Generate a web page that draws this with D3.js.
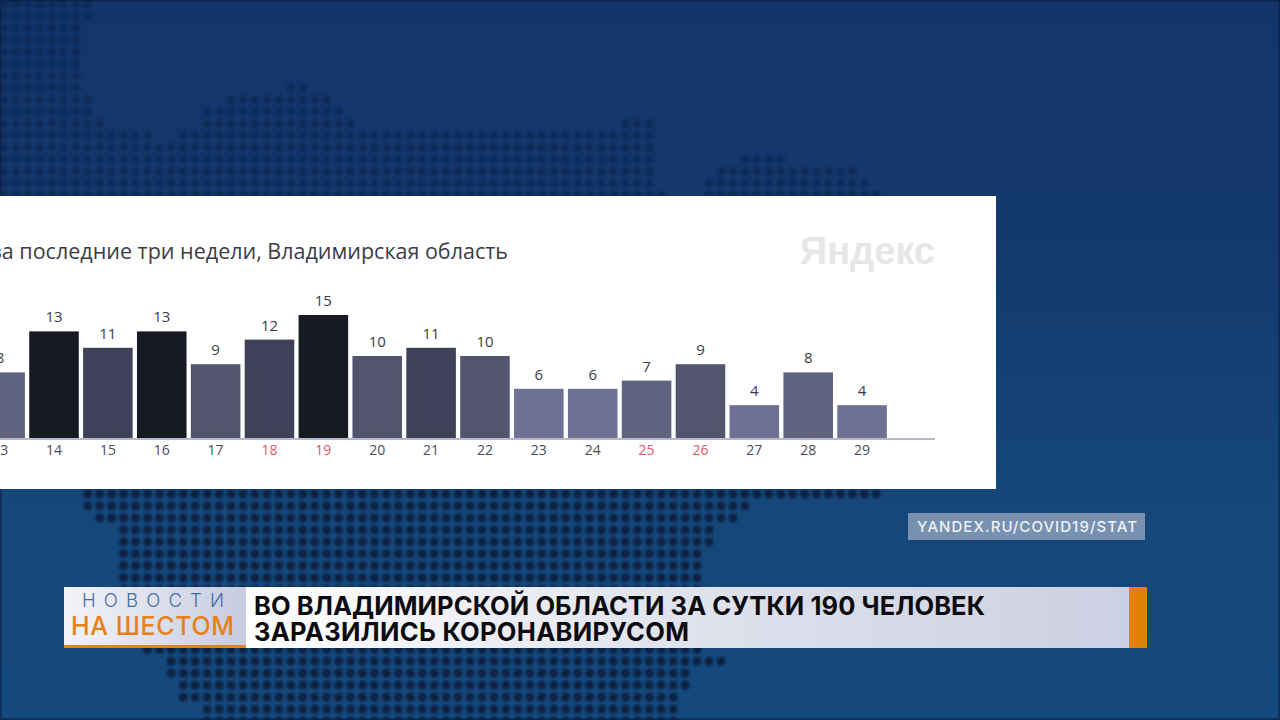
<!DOCTYPE html>
<html>
<head>
<meta charset="utf-8">
<script src="https://cdn.jsdelivr.net/npm/d3@7"></script>
<style>
html, body { margin: 0; padding: 0; overflow: hidden; background: #14366a; }
svg { display: block; }
</style>
</head>
<body>
<script>
var w = 1280;
var h = 720;

var days = ["13", "14", "15", "16", "17", "18", "19", "20", "21", "22", "23", "24", "25", "26", "27", "28", "29"];
var cases = [8, 13, 11, 13, 9, 12, 15, 10, 11, 10, 6, 6, 7, 9, 4, 8, 4];
var weekend = ["18", "19", "25", "26"];

var chartTitle = "за последние три недели, Владимирская область";
var headline = ["ВО ВЛАДИМИРСКОЙ ОБЛАСТИ ЗА СУТКИ 190 ЧЕЛОВЕК", "ЗАРАЗИЛИСЬ КОРОНАВИРУСОМ"];

// outline of the dotted map behind the card
var mapOutline = [[-5,-5],[95,-5],[95,18],[86,18],[86,88],[96,88],[96,112],[107,112],[107,135],[155,135],[155,147],[180,147],[180,135],[193,135],[193,124],[205,124],[205,100],[230,100],[230,88],[285,88],[285,78],[312,78],[312,88],[335,88],[335,100],[347,100],[347,112],[360,112],[360,124],[400,124],[400,125],[490,125],[535,125],[535,135],[575,135],[575,124],[622,124],[622,112],[652,112],[652,186],[665,186],[665,196],
  [705,196],[705,172],[720,172],[720,160],[740,160],[740,148],[785,148],[785,160],[855,160],[855,172],[865,172],[865,184],[878,184],[878,500],[747,500],[747,512],[735,512],[735,525],[712,525],[712,548],[700,548],[700,652],[725,652],[725,664],[690,664],[690,690],[677,690],[677,725],[205,725],[205,700],[172,700],[172,680],[160,680],[160,660],[145,660],[145,640],[122,640],[122,545],[112,545],[112,525],[98,525],[98,510],[85,510],[85,490],[72,490],[72,480],[-5,480]];

var svg = d3.select("body")
            .append("svg")
            .attr("width", w)
            .attr("height", h);

var defs = svg.append("defs");

var bgGrad = defs.append("linearGradient").attr("id", "bg").attr("x1", 0).attr("y1", 0).attr("x2", 0).attr("y2", 1);
bgGrad.append("stop").attr("offset", "0").attr("stop-color", "#13356a");
bgGrad.append("stop").attr("offset", "0.35").attr("stop-color", "#14396d");
bgGrad.append("stop").attr("offset", "0.7").attr("stop-color", "#15477a");
bgGrad.append("stop").attr("offset", "1").attr("stop-color", "#15487c");

var logoGrad = defs.append("linearGradient").attr("id", "logoBg");
logoGrad.append("stop").attr("offset", "0").attr("stop-color", "#f3f4f8");
logoGrad.append("stop").attr("offset", "1").attr("stop-color", "#c6cbdf");

var barGrad = defs.append("linearGradient").attr("id", "barBg");
barGrad.append("stop").attr("offset", "0").attr("stop-color", "#ffffff");
barGrad.append("stop").attr("offset", "0.45").attr("stop-color", "#e2e4ee");
barGrad.append("stop").attr("offset", "1").attr("stop-color", "#cbd0e2");

defs.append("filter").attr("id", "soft").append("feGaussianBlur").attr("stdDeviation", 0.9);

// background
svg.append("rect").attr("width", w).attr("height", h).attr("fill", "url(#bg)");

// dotted map, dark below the card and faint above it
var dotColor = d3.scaleLinear().domain([180, 500]).range(["#102c59", "#0b2143"]).clamp(true);
var dotStep = 11.95;
var dots = [];
d3.range(0, 61).forEach(function(row){
    d3.range(0, 108).forEach(function(col){
        var p = [col * dotStep + 4, row * dotStep + 4];
        if (d3.polygonContains(mapOutline, p)) dots.push(p);
    });
});
svg.append("g").attr("filter", "url(#soft)")
   .selectAll("circle")
   .data(dots)
   .enter()
   .append("circle")
   .attr("cx", function(d){ return d[0]; })
   .attr("cy", function(d){ return d[1]; })
   .attr("r", 4.4)
   .attr("fill", function(d){ return dotColor(d[1]); });

// frame vignette
svg.append("rect").attr("x", 0).attr("y", 0).attr("width", w).attr("height", h)
   .attr("fill", "none").attr("stroke", "#0c1f45").attr("stroke-width", 3).attr("opacity", 0.7);

// white card
svg.append("rect").attr("x", 0).attr("y", 196).attr("width", 996).attr("height", 293).attr("fill", "#ffffff");

svg.append("text")
   .text(chartTitle)
   .attr("x", 508)
   .attr("y", 259)
   .attr("text-anchor", "end")
   .attr("font-family", "'Open Sans', sans-serif")
   .attr("font-size", "21.5px")
   .attr("fill", "#3b3c48");

svg.append("text")
   .text("Яндекс")
   .attr("x", 935)
   .attr("y", 264)
   .attr("text-anchor", "end")
   .attr("font-family", "'Liberation Sans Narrow', sans-serif")
   .attr("font-weight", "bold")
   .attr("font-size", "38px")
   .attr("fill", "#e6e6e6");

var x = d3.scaleBand()
          .domain(days)
          .range([-26.8, 889])
          .paddingInner(0.08)
          .paddingOuter(0.04);

var y = d3.scaleLinear()
          .domain([0, 15])
          .range([438, 315]);

var barColor = d3.scaleThreshold()
                 .domain([7, 9, 11, 13])
                 .range(["#6e7193", "#60637f", "#53556f", "#3f4159", "#171923"]);

svg.selectAll("rect.bar")
   .data(cases)
   .enter()
   .append("rect")
   .attr("class", "bar")
   .attr("x", function(d, i){ return x(days[i]); })
   .attr("y", function(d){ return y(d); })
   .attr("width", x.bandwidth())
   .attr("height", function(d){ return y(0) - y(d); })
   .attr("fill", function(d){ return barColor(d); });

svg.selectAll("text.value")
   .data(cases)
   .enter()
   .append("text")
   .attr("class", "value")
   .text(function(d){ return d; })
   .attr("x", function(d, i){ return x(days[i]) + x.bandwidth() / 2; })
   .attr("y", function(d){ return y(d) - 9; })
   .attr("text-anchor", "middle")
   .attr("font-family", "'Open Sans', sans-serif")
   .attr("font-size", "15px")
   .attr("fill", "#3b3c48");

// axis line runs on past the last bar
svg.append("line")
   .attr("x1", x.range()[0])
   .attr("x2", x.range()[1] + 46)
   .attr("y1", y(0) + 1)
   .attr("y2", y(0) + 1)
   .attr("stroke", "#b5b8cc")
   .attr("stroke-width", 2);

var axis = svg.append("g")
              .attr("transform", "translate(0," + (y(0) + 1) + ")")
              .call(d3.axisBottom(x).tickSize(0).tickPadding(6));
axis.select(".domain").remove();
axis.selectAll("text")
    .attr("font-family", "'Open Sans', sans-serif")
    .attr("font-size", "14px")
    .attr("fill", function(d){ return weekend.indexOf(d) >= 0 ? "#e2566a" : "#4b4c58"; });

// source label
svg.append("rect").attr("x", 908).attr("y", 513).attr("width", 237).attr("height", 27).attr("fill", "#7891b0");
svg.append("text")
   .text("YANDEX.RU/COVID19/STAT")
   .attr("x", 917)
   .attr("y", 532)
   .attr("textLength", 220)
   .attr("font-family", "Inter, sans-serif")
   .attr("font-weight", 500)
   .attr("font-size", "15px")
   .attr("fill", "#eef1f6");

// news banner
svg.append("rect").attr("x", 64).attr("y", 587).attr("width", 182).attr("height", 61).attr("fill", "url(#logoBg)");
svg.append("rect").attr("x", 64).attr("y", 645).attr("width", 182).attr("height", 3).attr("fill", "#e58318");
svg.append("rect").attr("x", 246).attr("y", 587).attr("width", 883).attr("height", 61).attr("fill", "url(#barBg)");
svg.append("rect").attr("x", 1129).attr("y", 587).attr("width", 18).attr("height", 61).attr("fill", "#e38106");

svg.append("text")
   .text("НОВОСТИ")
   .attr("x", 82)
   .attr("y", 607)
   .attr("textLength", 142)
   .attr("font-family", "Inter, sans-serif")
   .attr("font-weight", 300)
   .attr("font-size", "18.5px")
   .attr("fill", "#3f6da6");

svg.append("text")
   .text("НА ШЕСТОМ")
   .attr("x", 71)
   .attr("y", 635)
   .attr("textLength", 163)
   .attr("font-family", "Inter, sans-serif")
   .attr("font-weight", 500)
   .attr("font-size", "25px")
   .attr("fill", "#e8801a");

svg.selectAll("text.headline")
   .data(headline)
   .enter()
   .append("text")
   .attr("class", "headline")
   .text(function(d){ return d; })
   .attr("x", 254)
   .attr("y", function(d, i){ return 615 + i * 26; })
   .attr("textLength", function(d, i){ return i === 0 ? 731 : 435; })
   .attr("font-family", "Inter, sans-serif")
   .attr("font-weight", 700)
   .attr("font-size", "25.5px")
   .attr("fill", "#0b0b10");
</script>
</body>
</html>
